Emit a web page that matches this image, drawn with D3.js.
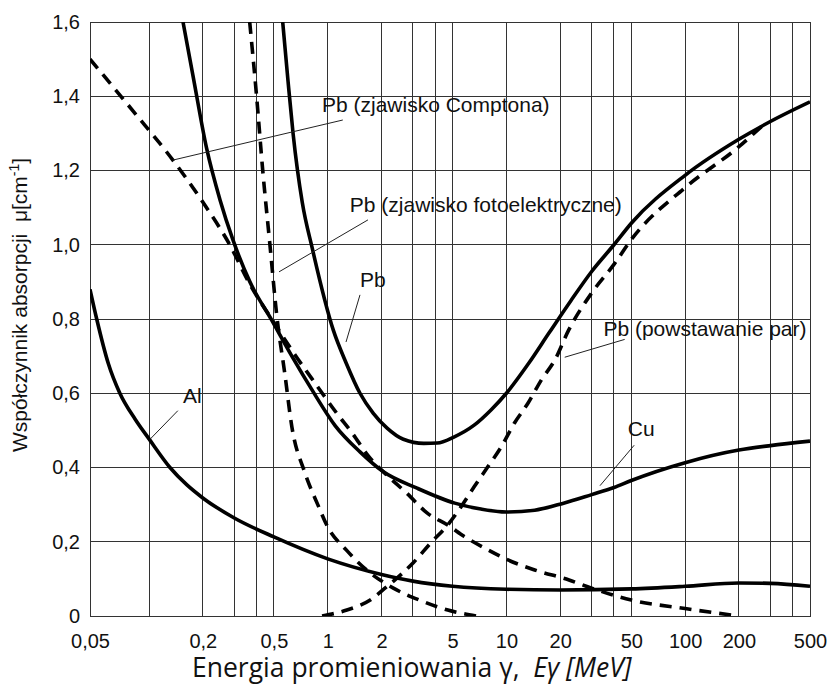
<!DOCTYPE html>
<html lang="pl">
<head>
<meta charset="utf-8">
<title>Współczynnik absorpcji promieniowania gamma</title>
<script src="https://d3js.org/d3.v7.min.js"></script>
<style>
  body { margin: 0; background: #fff; }
  .grid line, .frame { stroke: #333; stroke-width: 1; fill: none; shape-rendering: crispEdges; }
  .curve { fill: none; stroke: #000; stroke-width: 3.6; stroke-linejoin: round; }
  .dashed { stroke-dasharray: 12, 8; }
  .leader { stroke: #222; stroke-width: 1; }
  .tick text { font-family: "Liberation Sans", Arial, sans-serif; font-size: 20px; fill: #111; }
  .note { font-family: "Liberation Sans", Arial, sans-serif; font-size: 21px; fill: #111; }
  .ytitle { font-family: "Liberation Sans", Arial, sans-serif; font-size: 21px; fill: #111; }
  .xtitle { font-family: "Open Sans", sans-serif; font-size: 26.5px; fill: #111; }
</style>
</head>
<body>
<script>
// energy E [MeV] and absorption coefficient mu [1/cm]

// Al
var alE  = [0.05, 0.0541, 0.062, 0.071, 0.085, 0.1, 0.131, 0.163, 0.2, 0.3, 0.5, 1, 2, 3, 5, 10, 20, 50, 100, 200, 300, 500];
var alMu = [0.88, 0.80, 0.68, 0.60, 0.53, 0.477, 0.40, 0.353, 0.318, 0.264, 0.213, 0.154, 0.112, 0.094, 0.08, 0.072, 0.07, 0.073, 0.08, 0.089, 0.088, 0.08];

// Cu
var cuE  = [0.155, 0.176, 0.21, 0.25, 0.295, 0.367, 0.486, 0.63, 0.817, 1.1, 1.516, 2.04, 3.14, 5.14, 7.2, 10, 14.4, 20.9, 30, 40, 50, 100, 200, 300, 500];
var cuMu = [1.6, 1.457, 1.26, 1.12, 1.013, 0.90, 0.797, 0.70, 0.609, 0.513, 0.442, 0.389, 0.345, 0.304, 0.288, 0.28, 0.285, 0.304, 0.327, 0.346, 0.365, 0.413, 0.447, 0.459, 0.471];

// Pb (total)
var pbE  = [0.56, 0.6, 0.64, 0.72, 0.82, 1.075, 1.27, 1.516, 1.8, 2.15, 2.65, 3.45, 4.1, 5.08, 6.6, 8.2, 10, 13.3, 17.3, 23, 30, 40, 50, 100, 200, 300, 500];
var pbMu = [1.6, 1.44, 1.30, 1.115, 0.99, 0.77, 0.681, 0.60, 0.546, 0.506, 0.476, 0.465, 0.466, 0.482, 0.514, 0.555, 0.60, 0.68, 0.762, 0.85, 0.928, 1.0, 1.058, 1.187, 1.284, 1.332, 1.385];

// Pb, Compton scattering
var compE  = [0.05, 0.083, 0.136, 0.2, 0.283, 0.37, 0.486, 0.63, 0.88, 1.12, 1.37, 1.7, 2.0, 2.78, 3.61, 4.69, 5.82, 7.9, 10.2, 14.4, 22.4, 30, 50, 100, 200];
var compMu = [1.50, 1.36, 1.228, 1.115, 1.0, 0.89, 0.80, 0.716, 0.617, 0.547, 0.493, 0.429, 0.393, 0.33, 0.277, 0.245, 0.214, 0.178, 0.151, 0.124, 0.097, 0.075, 0.043, 0.02, 0.0];

// Pb, photoelectric effect
var photoE  = [0.366, 0.40, 0.433, 0.475, 0.52, 0.575, 0.63, 0.74, 0.88, 1.0, 1.27, 1.65, 2.33, 3.3, 4.7, 6.8];
var photoMu = [1.6, 1.4, 1.2, 1.0, 0.805, 0.654, 0.51, 0.39, 0.30, 0.24, 0.178, 0.124, 0.075, 0.042, 0.016, 0.0];

// Pb, pair production
var pairE  = [0.93, 1.28, 1.73, 2.14, 2.55, 3.03, 3.76, 4.69, 5.57, 6.6, 7.87, 9.37, 11.1, 13.2, 15.7, 18.7, 22.3, 30, 40, 50, 100, 200, 270];
var pairMu = [0, 0.016, 0.043, 0.079, 0.11, 0.145, 0.196, 0.245, 0.294, 0.348, 0.402, 0.456, 0.52, 0.573, 0.636, 0.69, 0.77, 0.87, 0.947, 1.014, 1.154, 1.264, 1.32];

// axes
var xTicks = [0.05, 0.2, 0.5, 1, 2, 5, 10, 20, 50, 100, 200, 500];
var xGrid  = [0.1, 0.2, 0.3, 0.4, 0.5, 1, 2, 3, 4, 5, 10, 20, 30, 40, 50, 100, 200, 300, 400];
var yTicks = [0, 0.2, 0.4, 0.6, 0.8, 1.0, 1.2, 1.4, 1.6];

// curve labels: text anchor and leader line, in data units
var notes = [
  {text: "Pb (zjawisko Comptona)",        at: [0.929, 1.358], from: [0.136, 1.228], to: [1.215, 1.336]},
  {text: "Pb (zjawisko fotoelektryczne)", at: [1.33, 1.089],  from: [0.534, 0.927], to: [1.68, 1.067]},
  {text: "Pb",                            at: [1.516, 0.886], from: [1.266, 0.738], to: [1.516, 0.865]},
  {text: "Al",                            at: [0.155, 0.574], from: [0.1013, 0.476], to: [0.145, 0.553]},
  {text: "Pb (powstawanie par)",          at: [34.9, 0.755],  from: [21.2, 0.697],  to: [45.9, 0.745]},
  {text: "Cu",                            at: [47.8, 0.486],  from: [33.4, 0.351],  to: [51.9, 0.46]}
];

var width = 828, height = 689;
var mLeft = 90, mRight = 810, mTop = 22, mBottom = 616;

// the printed grid puts 0.05..0.1 slightly wider than a pure log decade
var x = d3.scaleLog().domain([0.05, 0.1, 500]).range([mLeft, 149, mRight]);
var y = d3.scaleLinear().domain([0, 1.6]).range([mBottom, mTop]);

var svg = d3.select("body").append("svg")
  .attr("width", width)
  .attr("height", height)
  .style("background", "#fff");

svg.append("defs").append("clipPath").attr("id", "plot")
  .append("rect")
  .attr("x", mLeft).attr("y", mTop)
  .attr("width", mRight - mLeft).attr("height", mBottom - mTop);

// grid
var grid = svg.append("g").attr("class", "grid");
grid.selectAll("line.v").data(xGrid).join("line")
  .attr("class", "v")
  .attr("x1", d => x(d)).attr("x2", d => x(d))
  .attr("y1", y(0)).attr("y2", y(1.6));
grid.selectAll("line.h").data(yTicks).join("line")
  .attr("class", "h")
  .attr("x1", mLeft).attr("x2", mRight)
  .attr("y1", d => y(d)).attr("y2", d => y(d));
svg.append("rect").attr("class", "frame")
  .attr("x", mLeft).attr("y", mTop)
  .attr("width", mRight - mLeft).attr("height", mBottom - mTop);

// tick labels
function comma(d) { return String(d).replace(".", ","); }

svg.append("g")
  .attr("transform", "translate(0," + mBottom + ")")
  .call(d3.axisBottom(x).tickValues(xTicks).tickSize(0).tickPadding(18)
    .tickFormat(comma))
  .call(g => g.select(".domain").remove());

svg.append("g")
  .attr("transform", "translate(" + mLeft + ",0)")
  .call(d3.axisLeft(y).tickValues(yTicks).tickSize(0).tickPadding(10)
    .tickFormat(d => d === 0 ? "0" : comma(d3.format(".1f")(d))))
  .call(g => g.select(".domain").remove());

// curves
var line = d3.line()
  .x(d => x(d[0]))
  .y(d => y(d[1]))
  .curve(d3.curveMonotoneX);

var series = [
  {e: alE,    mu: alMu,    dashed: false},
  {e: cuE,    mu: cuMu,    dashed: false},
  {e: pbE,    mu: pbMu,    dashed: false},
  {e: compE,  mu: compMu,  dashed: true},
  {e: photoE, mu: photoMu, dashed: true},
  {e: pairE,  mu: pairMu,  dashed: true}
];

svg.append("g").attr("clip-path", "url(#plot)")
  .selectAll("path").data(series).join("path")
  .attr("class", d => d.dashed ? "curve dashed" : "curve")
  .attr("d", d => line(d.e.map((v, i) => [v, d.mu[i]])));

// labels with leader lines
var ng = svg.append("g");
ng.selectAll("line").data(notes).join("line")
  .attr("class", "leader")
  .attr("x1", d => x(d.from[0])).attr("y1", d => y(d.from[1]))
  .attr("x2", d => x(d.to[0])).attr("y2", d => y(d.to[1]));
ng.selectAll("text").data(notes).join("text")
  .attr("class", "note")
  .attr("x", d => x(d.at[0])).attr("y", d => y(d.at[1]))
  .text(d => d.text);

// axis titles
var yt = svg.append("text").attr("class", "ytitle")
  .attr("transform", "translate(27,452) rotate(-90)");
yt.append("tspan").text("Współczynnik absorpcji\u00a0\u00a0μ[cm");
yt.append("tspan").attr("font-size", 14).attr("dy", -8).text("-1");
yt.append("tspan").attr("dy", 8).text("]");

var xt = svg.append("text").attr("class", "xtitle")
  .attr("x", 192).attr("y", 677);
xt.append("tspan").text("Energia promieniowania γ,\u00a0\u00a0");
xt.append("tspan").attr("font-style", "italic").text("Eγ [MeV]");
</script>
</body>
</html>
